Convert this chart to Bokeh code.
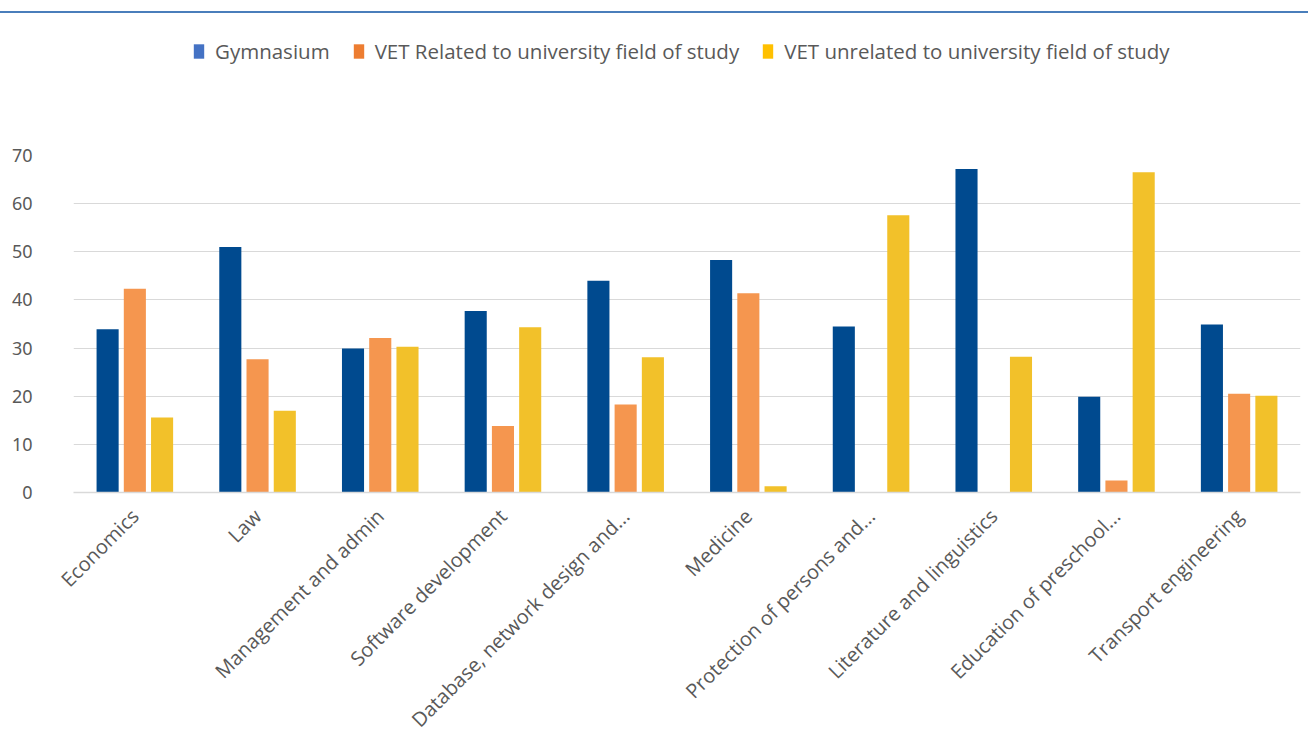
from math import pi
from bokeh.plotting import figure
from bokeh.models import FactorRange, Range1d, FixedTicker, Legend, LegendItem, ColumnDataSource, Div
from bokeh.transform import dodge
from bokeh.layouts import column
from bokeh.embed import file_html
from bokeh.resources import INLINE

categories = [
    "Economics",
    "Law",
    "Management and admin",
    "Software development",
    "Database, network design and...",
    "Medicine",
    "Protection of persons and...",
    "Literature and linguistics",
    "Education of preschool...",
    "Transport engineering",
]
series_names = [
    "Gymnasium",
    "VET Related to university field of study",
    "VET unrelated to university field of study",
]
gymnasium = [33.9, 51.0, 29.9, 37.7, 44.0, 48.3, 34.5, 67.2, 19.9, 34.9]
vet_related = [42.3, 27.7, 32.1, 13.8, 18.3, 41.4, 0.0, 0.0, 2.5, 20.5]
vet_unrelated = [15.6, 17.0, 30.3, 34.3, 28.1, 1.3, 57.6, 28.2, 66.5, 20.1]
y_ticks = [0, 10, 20, 30, 40, 50, 60, 70]

bar_colors = ["#004A8F", "#F5964F", "#F2C12A"]
legend_colors = ["#4472C4", "#ED7D31", "#FFC000"]
TEXT = "#595959"
GRID = "#D9D9D9"
RULE = "#4A7EBB"

source = ColumnDataSource(dict(cat=categories, g=gymnasium, r=vet_related, u=vet_unrelated))

# ---- blue rule at the top of the page ----
RULE_H = 13
rule = Div(text="", width=1308, height=RULE_H, margin=0,
           styles={"border-bottom": f"2px solid {RULE}", "box-sizing": "border-box"})

# ---- header figure holding the legend ----
HEAD_H = 67
head = figure(width=1308, height=HEAD_H,
              min_border_left=0, min_border_right=0, min_border_bottom=0, min_border_top=0,
              x_range=Range1d(0, 1), y_range=Range1d(0, 1),
              x_axis_location=None, y_axis_location=None,
              toolbar_location=None, output_backend="svg")
head.grid.visible = False
head.outline_line_color = None
head.background_fill_color = "white"
head.border_fill_color = "white"

# legend proxies: one point each, placed outside the visible range
proxies = [head.vbar(x=[-5], top=[-5], bottom=[-6], width=0.1, fill_color=c, line_color=None)
           for c in legend_colors]
legend = Legend(
    items=[LegendItem(label=n, renderers=[r]) for n, r in zip(series_names, proxies)],
    orientation="horizontal", location=(119, 15), padding=0, margin=0,
    border_line_color=None, background_fill_alpha=0,
    glyph_width=13, glyph_height=18, label_standoff=10, spacing=22,
    label_text_font="Open Sans", label_text_font_size="20.5px", label_text_color=TEXT,
)
head.add_layout(legend, "center")

# ---- main chart ----
p = figure(x_range=FactorRange(factors=categories), y_range=Range1d(0, 70),
           frame_width=1227, frame_height=337,
           min_border_left=73, min_border_right=8, min_border_top=155 - RULE_H - HEAD_H,
           min_border_bottom=5,
           toolbar_location=None, output_backend="svg")

offsets = [-0.222, 0.0, 0.222]
cols = ["g", "r", "u"]
for col, off, c in zip(cols, offsets, bar_colors):
    p.vbar(x=dodge("cat", off, range=p.x_range), top=col, width=0.18, bottom=0,
           source=source, fill_color=c, line_color=None)

p.outline_line_color = None
p.xgrid.visible = False
p.ygrid.grid_line_color = GRID
p.ygrid.grid_line_width = 1

p.yaxis.ticker = FixedTicker(ticks=y_ticks)
p.yaxis.axis_line_color = None
p.yaxis.major_tick_line_color = None
p.yaxis.minor_tick_line_color = None
p.yaxis.major_label_standoff = 35
p.yaxis.major_label_text_font = "Noto Sans"
p.yaxis.major_label_text_font_size = "18px"
p.yaxis.major_label_text_color = TEXT

p.xaxis.axis_line_color = GRID
p.xaxis.axis_line_width = 1.5
p.xaxis.major_tick_line_color = None
p.xaxis.minor_tick_line_color = None
p.xaxis.major_label_orientation = pi / 4
p.xaxis.major_label_standoff = 14
p.xaxis.major_label_text_font = "Open Sans"
p.xaxis.major_label_text_font_size = "20px"
p.xaxis.major_label_text_color = TEXT

layout = column(rule, head, p)
open("out.html", "w").write(file_html(layout, INLINE))
